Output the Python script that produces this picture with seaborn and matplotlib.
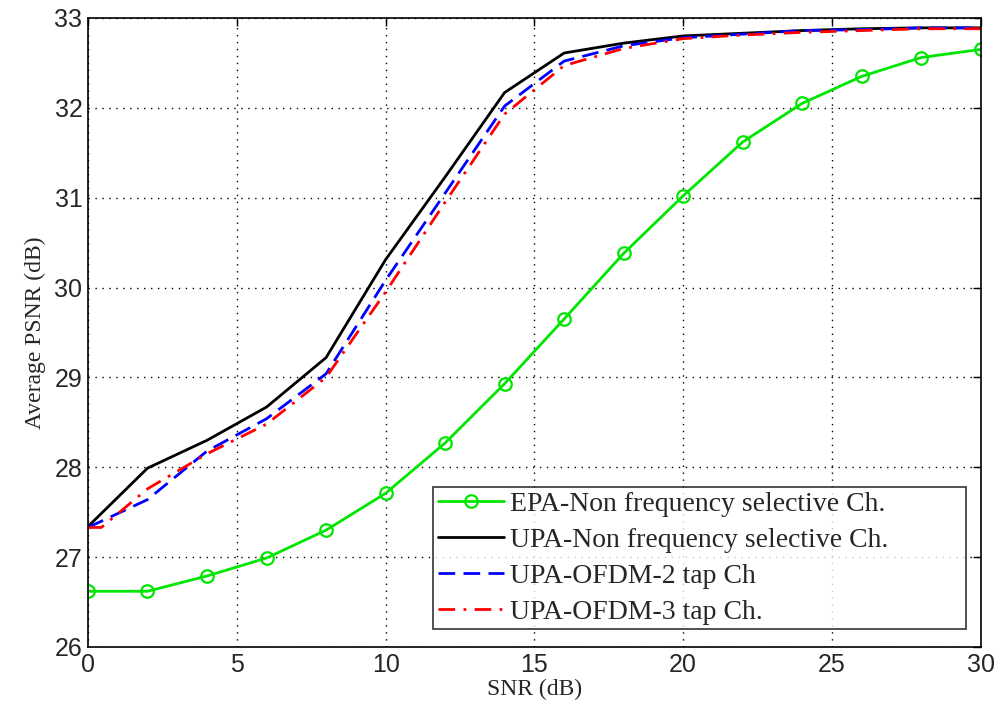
import numpy as np
import pandas as pd
import matplotlib
matplotlib.use("Agg")
import matplotlib.pyplot as plt
import seaborn as sns

# data
snr = [0, 2, 4, 6, 8, 10, 12, 14, 16, 18, 20, 22, 24, 26, 28, 30]
epa_flat = [26.62, 26.62, 26.79, 26.99, 27.30, 27.71, 28.27, 28.93, 29.65, 30.38,
            31.02, 31.62, 32.05, 32.35, 32.56, 32.65]
upa_flat = [27.34, 27.99, 28.30, 28.67, 29.22, 30.31, 31.23, 32.17, 32.61, 32.72,
            32.80, 32.83, 32.86, 32.88, 32.89, 32.89]
upa_2tap = [27.33, 27.64, 28.18, 28.54, 29.04, 30.08, 31.05, 32.02, 32.52, 32.69,
            32.78, 32.82, 32.86, 32.87, 32.89, 32.89]
snr_3tap = [0, 0.45, 2, 4, 6, 8, 10, 12, 14, 16, 18, 20, 22, 24, 26, 28, 30]
upa_3tap = [27.33, 27.33, 27.76, 28.15, 28.48, 29.00, 29.95, 30.95, 31.93, 32.47, 32.66,
            32.77, 32.81, 32.84, 32.86, 32.88, 32.88]

labels = ["EPA-Non frequency selective Ch.",
          "UPA-Non frequency selective Ch.",
          "UPA-OFDM-2 tap Ch",
          "UPA-OFDM-3 tap Ch."]

sns.set_style("white")
plt.rcParams["font.family"] = ["Liberation Sans", "DejaVu Sans"]

fig = plt.figure(figsize=(10.02, 7.13), dpi=100)
ax = fig.add_axes([0.0878, 0.0926, 0.891, 0.8822])

sns.lineplot(x=snr, y=epa_flat, ax=ax, color="#00e600", lw=2, marker="o",
             markersize=9, markerfacecolor="none", markeredgecolor="#00e600",
             markeredgewidth=1.6, label=labels[0])
sns.lineplot(x=snr, y=upa_flat, ax=ax, color="black", lw=2, label=labels[1])
sns.lineplot(x=snr, y=upa_2tap, ax=ax, color="#0000ff", lw=2, linestyle="--",
             label=labels[2])
sns.lineplot(x=snr_3tap, y=upa_3tap, ax=ax, color="#ff0000", lw=2, linestyle="-.",
             label=labels[3])
ax.lines[2].set_dashes([6, 3])
ax.lines[3].set_dashes([6, 3, 1, 3])

ax.set_xlim(0, 30)
ax.set_ylim(26, 33)
ax.set_xticks(np.arange(0, 31, 5))
ax.set_yticks(np.arange(26, 34, 1))
ax.grid(True, color="black", linestyle=(0, (1, 4)), linewidth=1)
ax.tick_params(direction="in", length=6, labelsize=18, top=True, right=True,
               width=1, color="black", pad=4)
for s in ax.spines.values():
    s.set_color("black")
    s.set_linewidth(1.2)

serif = {"family": ["Liberation Serif", "DejaVu Serif"], "size": 17}
ax.set_xlabel("SNR (dB)", fontdict=serif, labelpad=2)
ax.set_ylabel("Average PSNR (dB)", fontdict=serif, labelpad=6)

leg = ax.legend(loc="lower left", bbox_to_anchor=(0.387, 0.029, 0.596, 0.2),
                mode="expand",
                prop={"family": ["Liberation Serif", "DejaVu Serif"], "size": 20},
                frameon=True, fancybox=False, handlelength=2.4, labelspacing=0.38,
                borderpad=0.15, handletextpad=0.2, borderaxespad=0)
leg.get_frame().set_edgecolor("black")
leg.get_frame().set_linewidth(1.2)

fig.savefig("out.png", dpi=100)
